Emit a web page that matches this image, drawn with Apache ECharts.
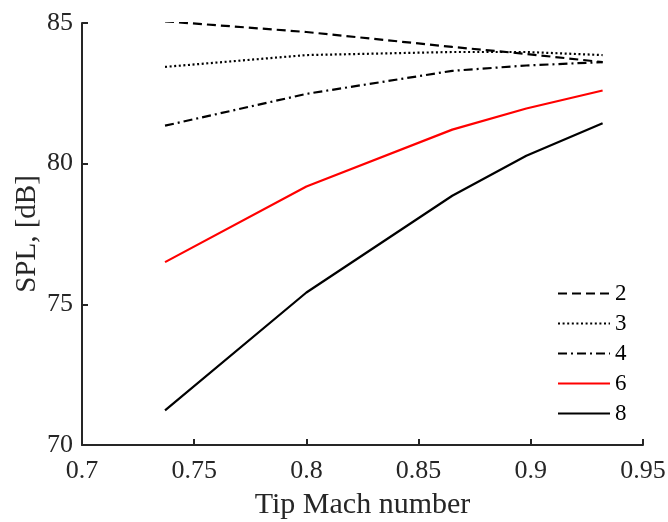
<!DOCTYPE html>
<html>
<head>
<meta charset="utf-8">
<script src="https://cdn.jsdelivr.net/npm/echarts@6/dist/echarts.min.js"></script>
<style>html,body{margin:0;padding:0;background:#fff}#c{width:668px;height:522px}</style>
</head>
<body>
<div id="c"></div>
<script>
const machNumbers = [0.737, 0.800, 0.865, 0.898, 0.932];
const seriesNames = ['2', '3', '4', '6', '8'];
const spl2 = [85.06, 84.68, 84.15, 83.90, 83.61];
const spl3 = [83.44, 83.86, 83.97, 83.97, 83.86];
const spl4 = [81.35, 82.48, 83.30, 83.49, 83.61];
const spl6 = [76.50, 79.19, 81.21, 81.96, 82.60];
const spl8 = [71.23, 75.42, 78.86, 80.28, 81.44];
const xTicks = [0.7, 0.75, 0.8, 0.85, 0.9, 0.95];
const yTicks = [70, 75, 80, 85];

const FONT = 'Liberation Serif';
const styles = [
  {color: '#000', type: [9, 5]},
  {color: '#000', type: [2, 2.6]},
  {color: '#000', type: [9, 4, 2, 4]},
  {color: '#ff0000', type: 'solid'},
  {color: '#000', type: 'solid'}
];
const values = [spl2, spl3, spl4, spl6, spl8];

const chart = echarts.init(document.getElementById('c'), null, {renderer: 'canvas'});
chart.setOption({
  animation: false,
  backgroundColor: '#fff',
  grid: {left: 82, right: 25, top: 23, bottom: 77, containLabel: false, outerBoundsMode: 'none'},
  xAxis: {
    type: 'value', min: xTicks[0], max: xTicks[xTicks.length - 1], interval: 0.05,
    name: 'Tip Mach number', nameLocation: 'middle', nameGap: 45, nameMoveOverlap: false,
    nameTextStyle: {fontFamily: FONT, fontSize: 30, color: '#262626'},
    axisLine: {lineStyle: {color: '#262626', width: 2}},
    axisTick: {inside: true, length: 6, lineStyle: {color: '#262626', width: 2}},
    splitLine: {show: false},
    axisLabel: {fontFamily: FONT, fontSize: 26, color: '#262626', margin: 13,
      formatter: v => String(parseFloat(v.toFixed(2)))}
  },
  yAxis: {
    type: 'value', min: yTicks[0], max: yTicks[yTicks.length - 1], interval: 5,
    name: 'SPL, [dB]', nameLocation: 'middle', nameGap: 40, nameMoveOverlap: false,
    nameTextStyle: {fontFamily: FONT, fontSize: 29, color: '#262626'},
    axisLine: {show: true, lineStyle: {color: '#262626', width: 2}},
    axisTick: {show: true, inside: true, length: 6, lineStyle: {color: '#262626', width: 2}},
    splitLine: {show: false},
    axisLabel: {fontFamily: FONT, fontSize: 26, color: '#262626', margin: 9}
  },
  legend: {
    orient: 'vertical', left: 552, top: 277,
    itemWidth: 52, itemHeight: 14, itemGap: 7,
    itemStyle: {opacity: 0},
    textStyle: {fontFamily: FONT, fontSize: 23, color: '#000'},
    data: seriesNames
  },
  series: seriesNames.map((n, i) => ({
    name: n, type: 'line', showSymbol: false, symbol: 'none',
    data: machNumbers.map((x, j) => [x, values[i][j]]),
    lineStyle: {color: styles[i].color, width: 2.2, type: styles[i].type},
    itemStyle: {color: styles[i].color}
  }))
});
</script>
</body>
</html>
